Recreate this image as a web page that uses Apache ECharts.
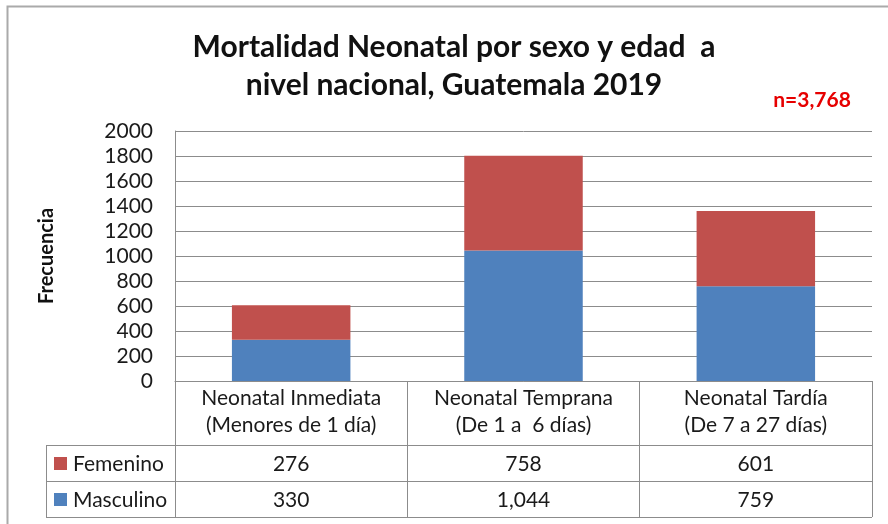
<!DOCTYPE html>
<html>
<head>
<meta charset="utf-8">
<style>
  html, body { margin: 0; padding: 0; background: #fff; }
  #chart { width: 888px; height: 524px; }
</style>
<script src="https://cdn.jsdelivr.net/npm/echarts@6/dist/echarts.min.js"></script>
</head>
<body>
<div id="chart"></div>
<script>
const categories = ['Neonatal Inmediata\n(Menores de 1 día)', 'Neonatal Temprana\n(De 1 a  6 días)', 'Neonatal Tardía\n(De 7 a 27 días)'];
const masculino = [330, 1044, 759];
const femenino = [276, 758, 601];
const yTicks = { min: 0, max: 2000, interval: 200 };
const totalLabel = 'n=3,768';
const titleLines = ['Mortalidad Neonatal por sexo y edad  a', 'nivel nacional, Guatemala 2019'];

const FONT = 'Lato, "Open Sans", sans-serif';
const RED = '#C0504D';
const BLUE = '#4F81BD';
const LINE = '#8c8c8c';

const chart = echarts.init(document.getElementById('chart'));

chart.setOption({
  animation: false,
  grid: { left: 175, right: 16, top: 131, bottom: 143 },
  xAxis: {
    type: 'category',
    data: categories,
    axisLine: { lineStyle: { color: LINE } },
    axisTick: { show: true, interval: 0, length: 136, lineStyle: { color: LINE } },
    axisLabel: { interval: 0, hideOverlap: false, color: '#1a1a1a', fontFamily: FONT, fontSize: 21, lineHeight: 27, margin: 4 }
  },
  yAxis: {
    type: 'value',
    min: yTicks.min, max: yTicks.max, interval: yTicks.interval,
    name: 'Frecuencia',
    nameLocation: 'middle',
    nameRotate: 90,
    nameGap: 118,
    nameTextStyle: { color: '#111', fontFamily: FONT, fontSize: 20, fontWeight: 'bold' },
    axisLine: { show: true, lineStyle: { color: LINE } },
    axisTick: { show: false },
    axisLabel: { color: '#1a1a1a', fontFamily: FONT, fontSize: 21, margin: 22, formatter: v => String(v) },
    splitLine: { lineStyle: { color: LINE } }
  },
  series: [
    { name: 'Masculino', type: 'bar', stack: 'total', data: masculino, barWidth: '51%', itemStyle: { color: BLUE } },
    { name: 'Femenino', type: 'bar', stack: 'total', data: femenino, itemStyle: { color: RED } }
  ]
});

// tabla de datos bajo el eje, a la manera de Excel
const fmt = v => v.toLocaleString('en-US');
const rows = [
  { name: 'Femenino', color: RED, data: femenino, y: 463 },
  { name: 'Masculino', color: BLUE, data: masculino, y: 499 }
];
const g = [];

// marco exterior
g.push({ type: 'rect', shape: { x: 7.5, y: 6.5, width: 920, height: 600 }, style: { fill: null, stroke: '#aaa', lineWidth: 2 }, silent: true });

// titulo
titleLines.forEach((t, i) => {
  g.push({ type: 'text', x: 454, y: 47 + i * 38, style: { text: t, fill: '#111', font: 'bold 30px ' + FONT, align: 'center', verticalAlign: 'middle' } });
});
g.push({ type: 'text', x: 812, y: 100, style: { text: totalLabel, fill: '#e60000', font: 'bold 21px ' + FONT, align: 'center', verticalAlign: 'middle' } });

// lineas de la tabla
[445, 481, 517].forEach(y => {
  g.push({ type: 'line', shape: { x1: 46, y1: y + 0.5, x2: 872, y2: y + 0.5 }, style: { stroke: LINE, lineWidth: 1 } });
});
g.push({ type: 'line', shape: { x1: 46.5, y1: 445, x2: 46.5, y2: 517 }, style: { stroke: LINE, lineWidth: 1 } });

rows.forEach(r => {
  g.push({ type: 'rect', shape: { x: 54, y: r.y - 6, width: 13, height: 13 }, style: { fill: r.color } });
  g.push({ type: 'text', x: 73, y: r.y + 1, style: { text: r.name, fill: '#1a1a1a', font: '21px ' + FONT, verticalAlign: 'middle' } });
  r.data.forEach((v, i) => {
    const px = chart.convertToPixel({ xAxisIndex: 0 }, i);
    g.push({ type: 'text', x: px, y: r.y + 1, style: { text: fmt(v), fill: '#1a1a1a', font: '21px ' + FONT, align: 'center', verticalAlign: 'middle' } });
  });
});

chart.setOption({ graphic: g });
</script>
</body>
</html>
